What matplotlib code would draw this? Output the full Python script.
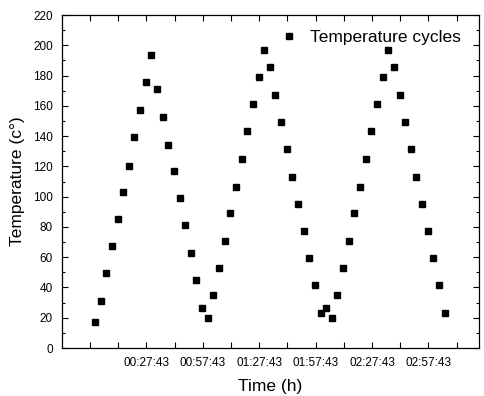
import matplotlib
matplotlib.use("Agg")
import matplotlib.pyplot as plt
from matplotlib.ticker import MultipleLocator, FixedLocator

plt.rcParams['font.family'] = ['Liberation Sans', 'DejaVu Sans']

# elapsed time of each sample in minutes, first sample taken at 00:00:23
start_seconds = 23
elapsed_min = [0, 3, 6, 9, 12, 15, 18, 21, 24, 27, 30, 33, 36, 39, 42, 45, 48, 51, 54, 57,
               60, 63, 66, 69, 72, 75, 78, 81, 84, 87, 90, 93, 96, 99, 102, 105, 108, 111,
               114, 117, 120, 123, 126, 129, 132, 135, 138, 141, 144, 147, 150, 153, 156,
               159, 162, 165, 168, 171, 174, 177, 180, 183, 186]
temperature = [17.0, 31.3, 49.3, 67.4, 85.2, 103.3, 120.5, 139.2, 157.5, 175.5, 193.4,
               171.1, 152.8, 134.3, 117.1, 99.1, 81.0, 63.0, 44.9, 26.2, 19.6,
               35.0, 53.1, 70.9, 89.0, 106.4, 125.1, 143.2, 161.2, 179.0, 196.9,
               185.4, 167.2, 149.3, 131.3, 113.2, 95.1, 77.3, 59.2, 41.6, 23.3,
               26.2, 19.6, 35.0, 53.1, 70.9, 89.0, 106.4, 125.1, 143.2, 161.2,
               179.0, 196.9, 185.4, 167.2, 149.3, 131.3, 113.2, 95.1, 77.3, 59.2,
               41.6, 23.3]
xtick_labels = ["", "00:27:43", "00:57:43", "01:27:43", "01:57:43", "02:27:43", "02:57:43"]
xtick_seconds = [-137, 1663, 3463, 5263, 7063, 8863, 10663]

t_sec = [start_seconds + m * 60 for m in elapsed_min]

fig = plt.figure(figsize=(4.84, 3.96), dpi=100)
ax = fig.add_axes([0.128, 0.1212, 0.8617, 0.8409])

ax.plot(t_sec, temperature, linestyle='none', marker='s', markersize=5,
        color='black', label='Temperature cycles')

ax.set_xlim(-1030, 12280)
ax.set_ylim(0, 220)

ax.xaxis.set_major_locator(FixedLocator(xtick_seconds))
ax.set_xticklabels(xtick_labels)
minor_x = [s + 900 for s in xtick_seconds] + [xtick_seconds[0] - 900]
ax.xaxis.set_minor_locator(FixedLocator(minor_x))
ax.yaxis.set_major_locator(MultipleLocator(20))
ax.yaxis.set_minor_locator(MultipleLocator(10))

ax.tick_params(which='both', direction='in', top=True, right=True, labelsize=8.5,
               width=0.8, pad=6.5)
ax.tick_params(which='major', length=4)
ax.tick_params(axis='x', which='minor', length=4)
ax.tick_params(axis='y', which='minor', length=2.5)
for s in ax.spines.values():
    s.set_linewidth(0.9)

ax.set_xlabel('Time (h)', fontsize=12.5, labelpad=7)
ax.set_ylabel('Temperature (c°)', fontsize=12.5, labelpad=6)

ax.legend(loc='upper right', bbox_to_anchor=(0.9856, 0.991), frameon=False,
          fontsize=12.5, handletextpad=0.6, handlelength=1.2, borderaxespad=0.3)

fig.savefig('out.png', dpi=100)
